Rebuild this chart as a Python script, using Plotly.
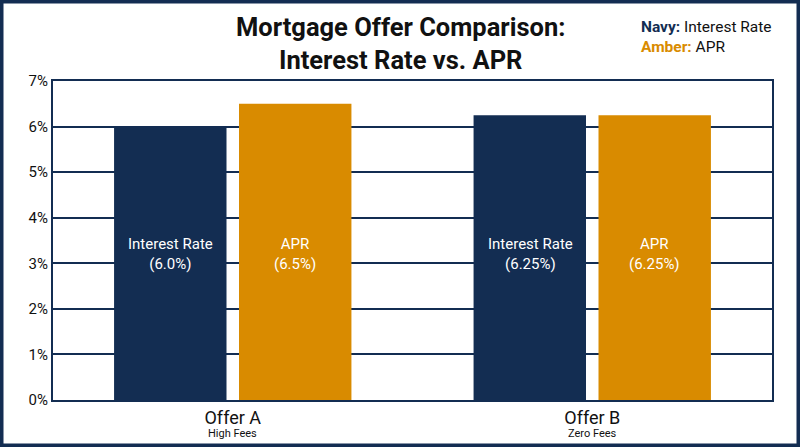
import plotly.graph_objects as go

offers = ["Offer A", "Offer B"]
offer_notes = ["High Fees", "Zero Fees"]
interest_rate = [6.0, 6.25]
apr = [6.5, 6.25]
rate_labels = ["6.0%", "6.25%"]
apr_labels = ["6.5%", "6.25%"]
y_ticks = [0, 1, 2, 3, 4, 5, 6, 7]

NAVY = "#132d52"
AMBER = "#d98b00"
FONT = "Roboto, Arial, sans-serif"

# plot area in page pixels: x 53..772, y 81..400
PW, PH = 719, 319

fig = go.Figure()
fig.add_trace(go.Bar(x=offers, y=interest_rate, name="Interest Rate",
                     marker=dict(color=NAVY, line=dict(width=0))))
fig.add_trace(go.Bar(x=offers, y=apr, name="APR",
                     marker=dict(color=AMBER, line=dict(width=0))))

# labels sit at the same height inside every bar
for i, offer in enumerate(offers):
    fig.add_annotation(x=offer, y=3.2, xshift=-62, showarrow=False,
                       text=f"Interest Rate<br>({rate_labels[i]})",
                       font=dict(color="white", size=15, family=FONT))
    fig.add_annotation(x=offer, y=3.2, xshift=62, showarrow=False,
                       text=f"APR<br>({apr_labels[i]})",
                       font=dict(color="white", size=15, family=FONT))
    # small note under each category label
    fig.add_annotation(x=offer, yref="paper", y=(400 - 434) / PH, yanchor="middle",
                       showarrow=False, text=offer_notes[i],
                       font=dict(color="#111", size=11, family=FONT))

# title as annotation so both lines stay on the page
fig.add_annotation(xref="paper", yref="paper", x=(400 - 53) / PW, y=(400 - 44) / PH,
                   xanchor="center", yanchor="middle", showarrow=False,
                   text="<b>Mortgage Offer Comparison:<br>Interest Rate vs. APR</b>",
                   font=dict(size=25.5, color="#111", family=FONT))

# legend-like note in the top right
fig.add_annotation(xref="paper", yref="paper", x=(774 - 53) / PW, y=(400 - 37) / PH,
                   xanchor="right", yanchor="middle", align="left", showarrow=False,
                   text=f"<b><span style='color:{NAVY}'>Navy:</span></b> Interest Rate<br>"
                        f"<b><span style='color:{AMBER}'>Amber:</span></b> APR",
                   font=dict(size=15.5, color="#111", family=FONT))

# navy frame around the whole page
fig.add_shape(type="rect", xref="paper", yref="paper",
              x0=-53 / PW, x1=(800 - 53) / PW, y0=-47 / PH, y1=400 / PH,
              line=dict(color=NAVY, width=7), fillcolor="rgba(0,0,0,0)", layer="above")

fig.update_layout(
    width=800, height=447,
    margin=dict(l=53, r=28, t=81, b=47),
    paper_bgcolor="white", plot_bgcolor="white",
    barmode="group", bargap=0.305, bargroupgap=0.1,
    showlegend=False,
    font=dict(family=FONT, color="#111"),
)
fig.update_xaxes(
    tickvals=offers, ticktext=offers,
    tickfont=dict(size=18, color="#111"),
    showline=True, linecolor=NAVY, linewidth=2, mirror=True, ticks="",
    automargin=False,
)
fig.update_yaxes(
    range=[0, 7], tickvals=y_ticks, ticktext=[f"{v}%" for v in y_ticks],
    tickfont=dict(size=15, color="#111"),
    showgrid=True, gridcolor=NAVY, gridwidth=1.5,
    showline=True, linecolor=NAVY, linewidth=2, mirror=True, ticks="",
    zeroline=False, automargin=False,
)

fig.write_html("out.html", config={"displayModeBar": False},
               post_script="document.body.style.margin='0';document.body.style.overflow='hidden';")
